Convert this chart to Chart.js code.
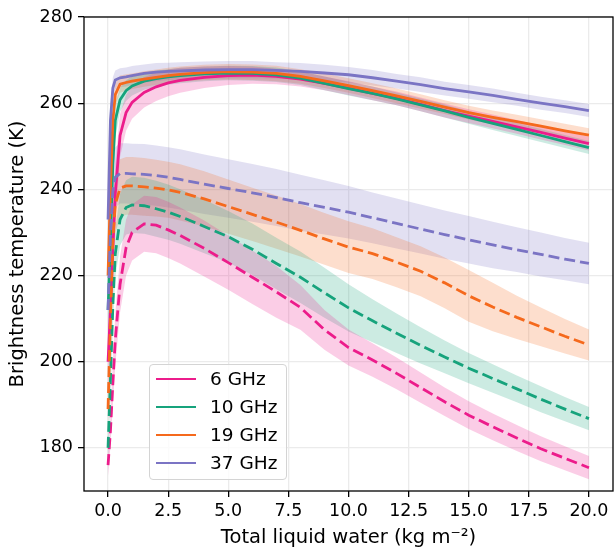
<!DOCTYPE html>
<html>
<head>
<meta charset="utf-8">
<script src="https://cdn.jsdelivr.net/npm/chart.js@4.4.1/dist/chart.umd.min.js"></script>
<style>
  body { margin: 0; background: #fff; }
  #wrap { position: relative; width: 614px; height: 550px; }
  #legend {
    position: absolute; left: 149px; top: 364px; width: 138px; height: 116px;
    box-sizing: border-box; border: 1px solid #d4d4d4; border-radius: 4px;
    background: rgba(255,255,255,0.8); font-family: "DejaVu Sans"; font-size: 18.5px; color: #000;
  }
  .sw { position: absolute; left: 6px; width: 40px; height: 2.8px; }
  .lb { position: absolute; left: 60px; line-height: 20px; white-space: nowrap; }
</style>
</head>
<body>
<div id="wrap">
  <canvas id="chart" width="614" height="550"></canvas>
  <div id="legend"></div>
</div>
<script>
// total liquid water (kg m-2)
const xs = [0, 0.1, 0.2, 0.3, 0.5, 0.75, 1, 1.5, 2, 2.5, 3, 4, 5, 6, 7, 8, 9, 10, 11, 12, 13, 14, 15, 16, 17, 18, 19, 20];
const xTicks = [0, 2.5, 5, 7.5, 10, 12.5, 15, 17.5, 20];
const yTicks = [180, 200, 220, 240, 260, 280];
const labels = ["6 GHz", "10 GHz", "19 GHz", "37 GHz"];

// solid lines (mean) and their spread
const solid6GHz = [200, 212, 226, 239, 252.5, 257.8, 260.2, 262.5, 263.8, 264.7, 265.3, 266, 266.4, 266.5, 266.2, 265.6, 264.6, 263.5, 262.3, 261.1, 259.7, 258.3, 257, 255.8, 254.5, 253.2, 251.9, 250.6];
const solid6Spread = [8, 8, 8, 7, 5, 4.2, 3.8, 3.5, 3.3, 3.1, 2.9, 2.5, 2.2, 2, 1.8, 1.7, 1.6, 1.6, 1.6, 1.6, 1.6, 1.6, 1.6, 1.6, 1.6, 1.6, 1.6, 1.6];
const solid10GHz = [212, 228, 246, 256, 260.8, 262.9, 264, 265.1, 265.7, 266.1, 266.4, 266.8, 267, 266.9, 266.6, 265.8, 264.6, 263.4, 262.3, 261, 259.6, 258.2, 256.7, 255.3, 253.9, 252.5, 251.1, 249.7];
const solid10Spread = [7, 7, 6, 4, 2.8, 2.4, 2.2, 2, 1.9, 1.8, 1.8, 1.7, 1.7, 1.7, 1.7, 1.6, 1.6, 1.6, 1.6, 1.5, 1.5, 1.5, 1.5, 1.5, 1.5, 1.5, 1.5, 1.5];
const solid19GHz = [220, 240, 256, 262, 264.4, 264.8, 265.1, 265.6, 266, 266.4, 266.7, 267.1, 267.3, 267.2, 266.9, 266.2, 265.2, 264.1, 262.9, 261.7, 260.4, 259.1, 257.8, 256.7, 255.7, 254.7, 253.6, 252.6];
const solid19Spread = [6, 6, 4, 2.5, 2, 1.9, 1.8, 1.8, 1.8, 1.8, 1.8, 1.8, 1.8, 1.8, 1.8, 1.7, 1.7, 1.7, 1.7, 1.7, 1.7, 1.6, 1.6, 1.6, 1.6, 1.6, 1.6, 1.6];
const solid37GHz = [233, 256, 263.5, 265.4, 265.9, 266.1, 266.4, 266.9, 267.2, 267.4, 267.5, 267.7, 267.8, 267.8, 267.6, 267.4, 267, 266.6, 265.9, 265.1, 264.3, 263.4, 262.6, 261.8, 260.9, 260, 259.2, 258.3];
const solid37Spread = [5, 4, 2.5, 2.2, 2.2, 2.2, 2.2, 2.1, 2.1, 2, 2, 2, 2, 2, 1.9, 1.9, 1.9, 1.8, 1.8, 1.7, 1.7, 1.6, 1.6, 1.6, 1.5, 1.5, 1.5, 1.5];

// dashed lines (mean) and their spread
const dashed6GHz = [176, 184, 195, 205, 218, 226.5, 230, 232, 231.7, 230.6, 229.3, 226.3, 223, 219.6, 216.2, 212.6, 207.4, 203.3, 200.4, 197.3, 194, 190.7, 187.6, 184.9, 182.3, 179.8, 177.6, 175.4];
const dashed6Spread = [2.5, 3.5, 5, 6, 6.5, 6.5, 6.5, 6.5, 6.5, 6.5, 6.5, 6.5, 6.3, 6.2, 6, 5.2, 4.6, 4.2, 3.9, 3.7, 3.5, 3.3, 3.2, 3.1, 3, 2.9, 2.8, 2.7];
const dashed10GHz = [180, 196, 213, 225, 233, 235.8, 236.4, 236.2, 235.5, 234.7, 233.7, 231.4, 229, 226.1, 222.8, 219.6, 216, 212.5, 209.5, 206.6, 203.8, 201.1, 198.5, 196.1, 193.7, 191.3, 189, 186.8];
const dashed10Spread = [3, 5, 5, 5.5, 6, 6.3, 6.5, 6.5, 6.5, 6.4, 6.3, 6.2, 6, 6, 6, 6, 5.8, 5.5, 5, 4.6, 4.2, 3.8, 3.5, 3.3, 3.1, 3, 2.8, 2.7];
const dashed19GHz = [189, 210, 228, 236.5, 240.3, 240.8, 240.8, 240.6, 240.3, 239.9, 239.3, 237.8, 236, 234.2, 232.4, 230.5, 228.5, 226.6, 225.1, 223.1, 221, 218.3, 215.3, 212.7, 210.3, 208.1, 205.9, 203.9];
const dashed19Spread = [5, 6, 6.5, 6.7, 6.7, 6.7, 6.7, 6.7, 6.6, 6.5, 6.5, 6.4, 6.3, 6.2, 6.2, 6.1, 6, 6, 5.9, 5.8, 5.8, 5.9, 6, 5.6, 5, 4.5, 4, 3.6];
const dashed37GHz = [212, 230, 239.5, 242.8, 243.7, 243.7, 243.6, 243.5, 243.2, 242.8, 242.3, 241.2, 240.2, 239.2, 238.1, 236.9, 235.8, 234.7, 233.4, 232.1, 230.8, 229.5, 228.3, 227.1, 226, 224.9, 223.8, 222.8];
const dashed37Spread = [6, 7, 7, 7, 7, 7, 7, 7, 7, 7, 7, 6.9, 6.8, 6.7, 6.6, 6.5, 6.3, 6.1, 5.9, 5.8, 5.7, 5.6, 5.5, 5.4, 5.2, 5.1, 4.9, 4.8];

const colors = ["#ec1c8b", "#16a37c", "#f5691c", "#7b74c4"];

const series = [
  { solid: solid6GHz, solidSd: solid6Spread, dashed: dashed6GHz, dashedSd: dashed6Spread },
  { solid: solid10GHz, solidSd: solid10Spread, dashed: dashed10GHz, dashedSd: dashed10Spread },
  { solid: solid19GHz, solidSd: solid19Spread, dashed: dashed19GHz, dashedSd: dashed19Spread },
  { solid: solid37GHz, solidSd: solid37Spread, dashed: dashed37GHz, dashedSd: dashed37Spread }
];

function hexToRgba(hex, a) {
  const n = parseInt(hex.slice(1), 16);
  return `rgba(${(n >> 16) & 255},${(n >> 8) & 255},${n & 255},${a})`;
}
const pts = arr => arr.map((y, i) => ({ x: xs[i], y }));

const datasets = [];
// bands first
series.forEach((s, k) => {
  [[s.solid, s.solidSd], [s.dashed, s.dashedSd]].forEach(([m, sd]) => {
    datasets.push({ data: pts(m.map((v, i) => v - sd[i])), borderWidth: 0, pointRadius: 0, fill: false, order: 50 });
    datasets.push({ data: pts(m.map((v, i) => v + sd[i])), borderWidth: 0, pointRadius: 0, fill: "-1",
      backgroundColor: hexToRgba(colors[k], 0.22), order: 50 });
  });
});
// mean lines
series.forEach((s, k) => {
  datasets.push({ label: labels[k], data: pts(s.solid), borderColor: colors[k], borderWidth: 2.8,
    pointRadius: 0, fill: false, tension: 0, order: 10 - k });
  datasets.push({ data: pts(s.dashed), borderColor: colors[k], borderWidth: 2.8, borderDash: [11, 5],
    pointRadius: 0, fill: false, tension: 0, order: 10 - k });
});

const boxPlugin = {
  id: "box",
  afterDraw(chart) {
    const { ctx, chartArea: a } = chart;
    ctx.save();
    ctx.strokeStyle = "#000";
    ctx.lineWidth = 1.3;
    ctx.strokeRect(a.left, a.top, a.right - a.left, a.bottom - a.top);
    ctx.restore();
  }
};

Chart.defaults.font.family = "DejaVu Sans";
Chart.defaults.font.size = 17.5;
Chart.defaults.color = "#000";

new Chart(document.getElementById("chart"), {
  type: "line",
  data: { datasets },
  plugins: [boxPlugin],
  options: {
    responsive: false,
    animation: false,
    layout: { padding: { top: 17, right: 1, left: 0, bottom: 0 } },
    plugins: {
      legend: { display: false },
      tooltip: { enabled: false },
      filler: { drawTime: "beforeDatasetsDraw" }
    },
    scales: {
      x: {
        type: "linear", min: -1, max: 21,
        afterBuildTicks: s => { s.ticks = xTicks.map(v => ({ value: v })); },
        afterFit: s => { s.height = 59; },
        ticks: { callback: v => v.toFixed(1), padding: 4, maxRotation: 0 },
        grid: { color: "#ebebeb", lineWidth: 1.3, tickColor: "#000", tickLength: 6, tickWidth: 1.3 },
        border: { display: false },
        title: { display: true, text: "Total liquid water (kg m\u207B\u00B2)", font: { size: 19.5 }, padding: { top: 0, bottom: 0 } }
      },
      y: {
        min: 170, max: 280,
        afterBuildTicks: s => { s.ticks = yTicks.map(v => ({ value: v })); },
        afterFit: s => { s.width = 84; },
        ticks: { padding: 5 },
        grid: { color: "#ebebeb", lineWidth: 1.3, tickColor: "#000", tickLength: 6, tickWidth: 1.3 },
        border: { display: false },
        title: { display: true, text: "Brightness temperature (K)", font: { size: 19.5 }, padding: { top: 6, bottom: 0 } }
      }
    }
  }
});

// legend
const leg = document.getElementById("legend");
const rowY = [14, 42, 70, 98];
labels.forEach((name, k) => {
  const sw = document.createElement("div");
  sw.className = "sw";
  sw.style.top = (rowY[k] - 1.4) + "px";
  sw.style.background = colors[k];
  leg.appendChild(sw);
  const lb = document.createElement("div");
  lb.className = "lb";
  lb.style.top = (rowY[k] - 10) + "px";
  lb.textContent = name;
  leg.appendChild(lb);
});
</script>
</body>
</html>
